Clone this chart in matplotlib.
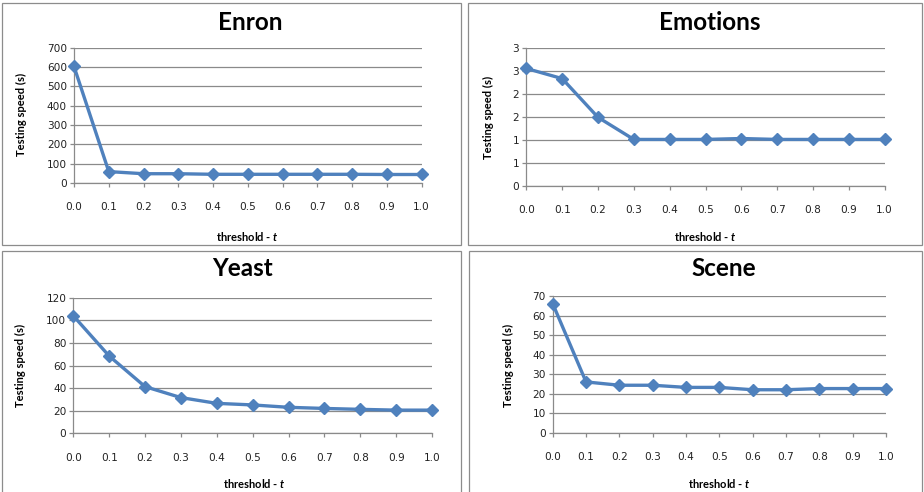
import matplotlib
matplotlib.use("Agg")
import matplotlib.pyplot as plt
from matplotlib.patches import Rectangle

plt.rcParams['mathtext.fontset'] = 'custom'
plt.rcParams['mathtext.it'] = 'Lato:italic:bold'

thresholds = [0.0, 0.1, 0.2, 0.3, 0.4, 0.5, 0.6, 0.7, 0.8, 0.9, 1.0]
x_labels = ["0.0", "0.1", "0.2", "0.3", "0.4", "0.5", "0.6", "0.7", "0.8", "0.9", "1.0"]

enron = [603, 59, 48, 48, 45, 45, 45, 45, 45, 44, 44]
emotions = [2.55, 2.33, 1.49, 1.01, 1.01, 1.01, 1.03, 1.01, 1.01, 1.01, 1.01]
yeast = [104, 68.4, 41.3, 31.6, 26.5, 25.1, 23.0, 22.0, 21.2, 20.5, 20.5]
scene = [66.1, 26.1, 24.4, 24.4, 23.3, 23.3, 22.1, 22.1, 22.7, 22.7, 22.7]

enron_ticks = [0, 100, 200, 300, 400, 500, 600, 700]
emotions_ticks = [0, 0.5, 1.0, 1.5, 2.0, 2.5, 3.0]
emotions_tick_labels = ["0", "1", "1", "2", "2", "3", "3"]
yeast_ticks = [0, 20, 40, 60, 80, 100, 120]
scene_ticks = [0, 10, 20, 30, 40, 50, 60, 70]

W, H = 924, 492
LINE = "#4F81BD"

fig = plt.figure(figsize=(W / 100, H / 100), dpi=100)
fig.patch.set_facecolor("white")


def px_rect(l, t, r, b):
    return [l / W, 1 - b / H, (r - l) / W, (b - t) / H]


# panel frames
for (l, t, r, b) in [(2, 3, 461, 245), (468, 3, 922, 245), (2, 251, 461, 494), (469, 251, 922, 494)]:
    fig.patches.append(Rectangle((l / W, 1 - b / H), (r - l) / W, (b - t) / H,
                                 transform=fig.transFigure, fill=False,
                                 edgecolor="#8c8c8c", linewidth=0.9))

panels = [
    # title, values, ticks, tick labels, axes px box, title xy, xlabel xy, ylabel xy
    ("Enron", enron, enron_ticks, [str(v) for v in enron_ticks],
     (74, 47.7, 421.7, 183), (250, 22), (247, 236), (21, 114)),
    ("Emotions", emotions, emotions_ticks, emotions_tick_labels,
     (526.3, 47.7, 884.7, 186), (710, 22), (705, 236), (488, 117)),
    ("Yeast", yeast, yeast_ticks, [str(v) for v in yeast_ticks],
     (73.3, 297.7, 432, 433.3), (243, 269), (254, 483), (20, 365)),
    ("Scene", scene, scene_ticks, [str(v) for v in scene_ticks],
     (552.7, 296, 886, 433), (724, 269), (719, 483), (508, 365)),
]

for title, vals, ticks, tlabels, box, txy, xlxy, ylxy in panels:
    ax = fig.add_axes(px_rect(*box))
    ax.plot(thresholds, vals, color=LINE, linewidth=2.4, marker="D",
            markersize=5.8, clip_on=False, zorder=3)
    ax.set_xlim(0, 1.0)
    ax.set_ylim(ticks[0], ticks[-1])
    ax.set_yticks(ticks)
    ax.set_yticklabels(tlabels)
    ax.set_xticks(thresholds)
    ax.set_xticklabels(x_labels)
    ax.grid(axis="y", color="#8a8a8a", linewidth=0.9)
    ax.set_axisbelow(True)
    for s in ["top", "right"]:
        ax.spines[s].set_visible(False)
    for s in ["left", "bottom"]:
        ax.spines[s].set_color("#8a8a8a")
        ax.spines[s].set_linewidth(0.9)
    ax.tick_params(axis="both", colors="#8a8a8a", labelcolor="#222222",
                   labelsize=7.6, length=3, width=0.9, direction="out")
    ax.tick_params(axis="x", pad=11)
    ax.tick_params(axis="y", pad=2)

    fig.text(txy[0] / W, 1 - txy[1] / H, title, ha="center", va="center",
             fontsize=17.5, fontweight="bold", family="Lato")
    fig.text(xlxy[0] / W, 1 - xlxy[1] / H, "threshold - $\\mathit{t}$", ha="center", va="center",
             fontsize=8, fontweight="bold", family="Lato")
    fig.text(ylxy[0] / W, 1 - ylxy[1] / H, "Testing speed (s)", ha="center", va="center",
             rotation=90, fontsize=8, fontweight="bold", family="Lato")

fig.savefig("out.png", dpi=100)
